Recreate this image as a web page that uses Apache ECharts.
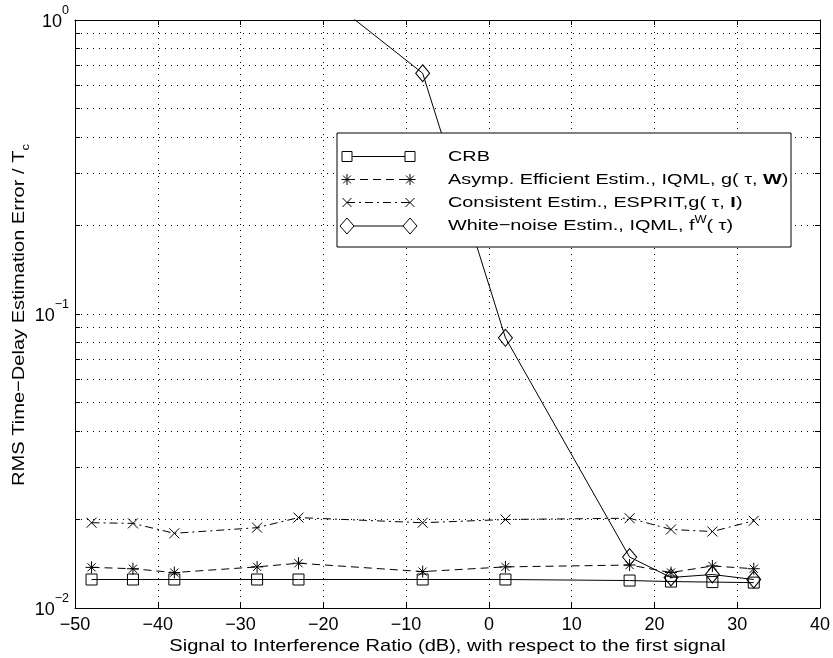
<!DOCTYPE html>
<html>
<head>
<meta charset="utf-8">
<script src="https://cdn.jsdelivr.net/npm/echarts@6/dist/echarts.min.js"></script>
<style>
html,body{margin:0;padding:0;background:#fff;}
#chart{width:833px;height:658px;}
</style>
</head>
<body>
<div id="chart"></div>
<script>
// ---- data ----
var sirDb = [-48, -43, -38, -28, -23, -8, 2, 17, 22, 27, 32];
var crb = [0.0125, 0.0125, 0.0125, 0.0125, 0.0125, 0.0125, 0.0125, 0.0124, 0.0123, 0.01225, 0.0122];
var asympEff = [0.01375, 0.0136, 0.0132, 0.0138, 0.0142, 0.0133, 0.0138, 0.0140, 0.0132, 0.0139, 0.0136];
var consistent = [0.0195, 0.0194, 0.01795, 0.01876, 0.0203, 0.0195, 0.0200, 0.0202, 0.0185, 0.0182, 0.0198];
var whiteNoise = [null, null, null, null, 1.42, 0.659, 0.083, 0.0149, 0.0127, 0.0130, 0.0125];
var minorGridY = [0.02, 0.03, 0.04, 0.05, 0.06, 0.07, 0.08, 0.09, 0.2, 0.3, 0.4, 0.5, 0.6, 0.7, 0.8, 0.9];
var xTitle = 'Signal to Interference Ratio (dB), with respect to the first signal';
var yTitle = 'RMS Time−Delay Estimation Error / T';
var seriesNames = ['CRB', 'Asymp. Efficient Estim., IQML, g( τ, W)', 'Consistent Estim., ESPRIT,g( τ, I)', 'White−noise Estim., IQML, f^W( τ)'];

var X_MIN = -50, X_MAX = 40;

function pairs(vals) {
  var out = [];
  for (var i = 0; i < sirDb.length; i++) out.push([sirDb[i], vals[i]]);
  return out;
}

var FONT = 'Liberation Sans';
var ASTER = 'path://M5,0L5,10M0,5L10,5M1.6,1.6L8.4,8.4M1.6,8.4L8.4,1.6';
var XMARK = 'path://M0,0L10,10M0,10L10,0';
var DASH = [8, 5];
var DASHDOT = [8, 4, 2, 4];
var GRIDDOT = [1, 5];

var chart = echarts.init(document.getElementById('chart'), null, {renderer: 'canvas'});

var axisCommonX = {
  type: 'value', min: X_MIN, max: X_MAX, interval: 10,
  axisLine: {show: true, onZero: false, lineStyle: {color: '#000', width: 1}},
  axisTick: {show: true, inside: true, length: 5, lineStyle: {color: '#000'}}
};
var axisCommonY = {
  type: 'log', logBase: 10, min: 0.01, max: 1,
  axisLine: {show: true, onZero: false, lineStyle: {color: '#000', width: 1}},
  axisTick: {show: true, inside: true, length: 5, lineStyle: {color: '#000'}}
};

var LZ = 101;
function ln(x1, y1, x2, y2, dash) {
  return {type: 'line', z: LZ, shape: {x1: x1, y1: y1, x2: x2, y2: y2},
    style: {stroke: '#000', lineWidth: 1, lineDash: dash || null}};
}
function sqMarker(x, y) {
  return [{type: 'rect', z: LZ, shape: {x: x - 5, y: y - 5, width: 10, height: 10}, style: {fill: '#fff', stroke: '#000', lineWidth: 1}}];
}
function asterMarker(x, y) {
  var r = 5.5, d = 3.9;
  return [ln(x, y - r, x, y + r), ln(x - r, y, x + r, y), ln(x - d, y - d, x + d, y + d), ln(x - d, y + d, x + d, y - d)];
}
function xMarker(x, y) {
  var d = 4.5;
  return [ln(x - d, y - d, x + d, y + d), ln(x - d, y + d, x + d, y - d)];
}
function diaMarker(x, y) {
  return [{type: 'polygon', z: LZ, shape: {points: [[x, y - 8], [x + 7, y], [x, y + 8], [x - 7, y]]}, style: {fill: '#fff', stroke: '#000', lineWidth: 1}}];
}

var LF = 15.5;
var legendRich = {
  n: {fontFamily: FONT, fontSize: LF, fill: '#000', lineHeight: 16},
  b: {fontFamily: FONT, fontSize: LF, fontWeight: 'bold', fill: '#000', lineHeight: 16},
  s: {fontFamily: FONT, fontSize: 10, fill: '#000', lineHeight: 10, verticalAlign: 'bottom', padding: [0, 0, 9, 0]}
};
var legendTexts = [
  '{n|CRB}',
  '{n|Asymp. Efficient Estim., IQML, g( τ, }{b|W}{n|)}',
  '{n|Consistent Estim., ESPRIT,g( τ, }{b|I}{n|)}',
  '{n|White−noise Estim., IQML, f}{s|W}{n|( τ)}'
];
var legendY = [156.5, 179.5, 202.5, 226];
var markerFns = [sqMarker, asterMarker, xMarker, diaMarker];
var lineTypes = [null, DASH, DASHDOT, null];

var graphics = [{
  type: 'rect', shape: {x: 337, y: 133, width: 454, height: 114},
  style: {fill: '#fff', stroke: '#000', lineWidth: 1}, z: 100
}];
for (var i = 0; i < 4; i++) {
  graphics.push(ln(347, legendY[i], 410, legendY[i], lineTypes[i]));
  graphics = graphics.concat(markerFns[i](347, legendY[i]), markerFns[i](410, legendY[i]));
  graphics.push({
    type: 'text', x: 448, y: legendY[i], z: LZ, scaleX: 1.28,
    style: {text: legendTexts[i], rich: legendRich, verticalAlign: 'middle', align: 'left', fontFamily: FONT, fontSize: LF}
  });
}
// axis titles
graphics.push({
  type: 'text', x: 447.5, y: 646, z: 50, scaleX: 1.18,
  style: {text: xTitle, align: 'center', verticalAlign: 'middle', fontFamily: FONT, fontSize: 17, fill: '#000'}
});
graphics.push({
  type: 'text', x: 19, y: 315, rotation: Math.PI / 2, z: 50, scaleX: 1.18,
  style: {
    text: '{t|' + yTitle + '}{c|c}',
    align: 'center', verticalAlign: 'middle',
    rich: {
      t: {fontFamily: FONT, fontSize: 17, fill: '#000', lineHeight: 17, verticalAlign: 'top'},
      c: {fontFamily: FONT, fontSize: 11, fill: '#000', lineHeight: 11, verticalAlign: 'top', padding: [10, 0, 0, 0]}
    }
  }
});

// minor grid lines and minor ticks (left and right frame) at 2..9 x 10^k
var TICK_DX = 0.6; // tick length expressed on the x scale (~5px)
var minorMarkData = minorGridY.map(function (v) { return {yAxis: v}; });
var minorTickData = [];
minorGridY.forEach(function (v) {
  minorTickData.push([{coord: [X_MIN, v]}, {coord: [X_MIN + TICK_DX, v]}]);
  minorTickData.push([{coord: [X_MAX - TICK_DX, v]}, {coord: [X_MAX, v]}]);
});

var option = {
  animation: false,
  backgroundColor: '#fff',
  grid: {left: 75, top: 20, right: 13, bottom: 50, containLabel: false},
  xAxis: [
    Object.assign({}, axisCommonX, {
      position: 'bottom',
      axisLabel: {show: true, margin: 8, fontFamily: FONT, fontSize: 18, color: '#000',
        formatter: function (v) { return String(v).replace('-', '−'); }},
      splitLine: {show: true, lineStyle: {color: '#000', width: 1, type: GRIDDOT}}
    }),
    Object.assign({}, axisCommonX, {
      position: 'top', axisLabel: {show: false}, splitLine: {show: false}
    })
  ],
  yAxis: [
    Object.assign({}, axisCommonY, {
      position: 'left',
      axisLabel: {show: true, margin: 6, formatter: function (v) {
        var e = Math.round(Math.log(v) / Math.LN10);
        return '{b|10}{s|' + String(e).replace('-', '−') + '}';
      }, rich: {
        b: {fontFamily: FONT, fontSize: 18, color: '#000', lineHeight: 18, padding: [4, 0, 0, 0]},
        s: {fontFamily: FONT, fontSize: 12.5, color: '#000', lineHeight: 12, verticalAlign: 'bottom', padding: [0, 0, 12, 0]}
      }},
      splitLine: {show: true, lineStyle: {color: '#000', width: 1, type: GRIDDOT}}
    }),
    Object.assign({}, axisCommonY, {
      position: 'right', axisLabel: {show: false}, splitLine: {show: false}
    })
  ],
  graphic: graphics,
  series: [
    {
      name: seriesNames[0], type: 'line', data: pairs(crb),
      symbol: 'rect', symbolSize: 11,
      lineStyle: {color: '#000', width: 1},
      itemStyle: {color: 'rgba(0,0,0,0)', borderColor: '#000', borderWidth: 1},
      markLine: {
        silent: true, symbol: 'none', label: {show: false}, animation: false,
        lineStyle: {color: '#000', width: 1, type: GRIDDOT},
        data: minorMarkData
      }
    },
    {
      name: seriesNames[1], type: 'line', data: pairs(asympEff),
      symbol: ASTER, symbolSize: 12,
      lineStyle: {color: '#000', width: 1, type: DASH},
      itemStyle: {color: 'rgba(0,0,0,0)', borderColor: '#000', borderWidth: 1},
      markLine: {
        silent: true, symbol: 'none', label: {show: false}, animation: false,
        lineStyle: {color: '#000', width: 1, type: 'solid'},
        data: minorTickData
      }
    },
    {
      name: seriesNames[2], type: 'line', data: pairs(consistent),
      symbol: XMARK, symbolSize: 10,
      lineStyle: {color: '#000', width: 1, type: DASHDOT},
      itemStyle: {color: 'rgba(0,0,0,0)', borderColor: '#000', borderWidth: 1}
    },
    {
      name: seriesNames[3], type: 'line', data: pairs(whiteNoise),
      symbol: 'diamond', symbolSize: [14, 17], clip: true,
      lineStyle: {color: '#000', width: 1},
      itemStyle: {color: 'rgba(0,0,0,0)', borderColor: '#000', borderWidth: 1}
    }
  ]
};
chart.setOption(option);
</script>
</body>
</html>
